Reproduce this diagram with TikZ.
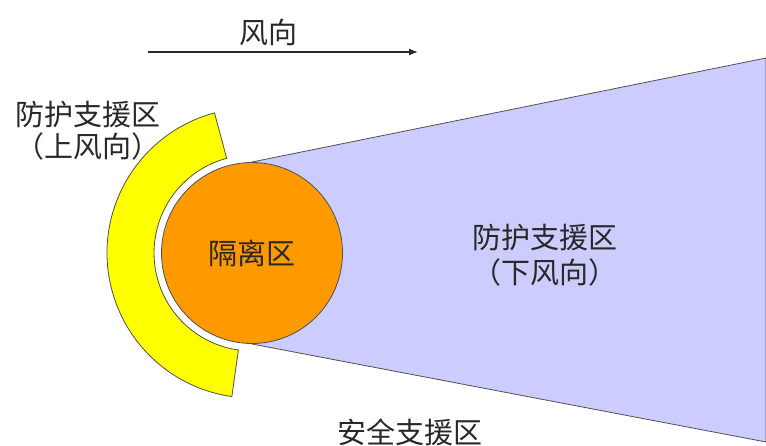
\documentclass[tikz,border=0pt]{standalone}
\usepackage{fontspec}
\newfontfamily\cjk{Noto Sans CJK SC}
\usetikzlibrary{arrows.meta}
\definecolor{edgegray}{RGB}{80,80,80}
\definecolor{txt}{RGB}{40,40,40}
\definecolor{zoneyellow}{RGB}{255,255,0}
\definecolor{zoneorange}{RGB}{255,153,0}
\definecolor{zonelav}{RGB}{204,204,255}
\begin{document}
\begin{tikzpicture}[x=1pt,y=-1pt,
  lbl/.style={font=\cjk\fontsize{29}{32}\selectfont, text=txt, align=center, inner sep=0pt},
  zone/.style={draw=edgegray, line width=0.8pt}]
\useasboundingbox (0,0) rectangle (766,446);
\clip (0,0) rectangle (766,446);
\coordinate (c) at (252,253);
\coordinate (tl) at (252,162);
\coordinate (tr) at (766,58);
\coordinate (br) at (766,442);
\coordinate (bl) at (252,344);
% upwind arc end points
\coordinate (ao) at (214.5,112.9);
\coordinate (ai) at (238.4,350.0);
% downwind zone
\path[zone, fill=zonelav] (tl) -- (tr) -- (br) -- (bl) -- cycle;
% upwind arc
\path[zone, fill=zoneyellow] (ao) arc[start angle=105, end angle=262, radius=145pt]
   -- (ai) arc[start angle=262, end angle=105, radius=98pt] -- cycle;
% isolation zone
\node[zone, fill=zoneorange, circle, minimum size=181pt, inner sep=0pt,
      font=\cjk\fontsize{29}{32}\selectfont, text=txt] (iso) at (c) {隔离区};
% wind
\coordinate (w1) at (148,52);
\coordinate (w2) at (418,52);
\draw[line width=1.3pt, draw=txt, -{Latex[length=9pt,width=7pt]}] (w1) -- (w2);
\node[lbl] (wind) at (268,32) {风向};
\node[lbl, font=\cjk\fontsize{29}{32}\selectfont] (up) at (88,131) {防护支援区\\（上风向）};
\node[lbl, font=\cjk\fontsize{29}{35}\selectfont] (down) at (545,255.5) {防护支援区\\（下风向）};
\node[lbl] (safe) at (410,432) {安全支援区};
\end{tikzpicture}
\end{document}
